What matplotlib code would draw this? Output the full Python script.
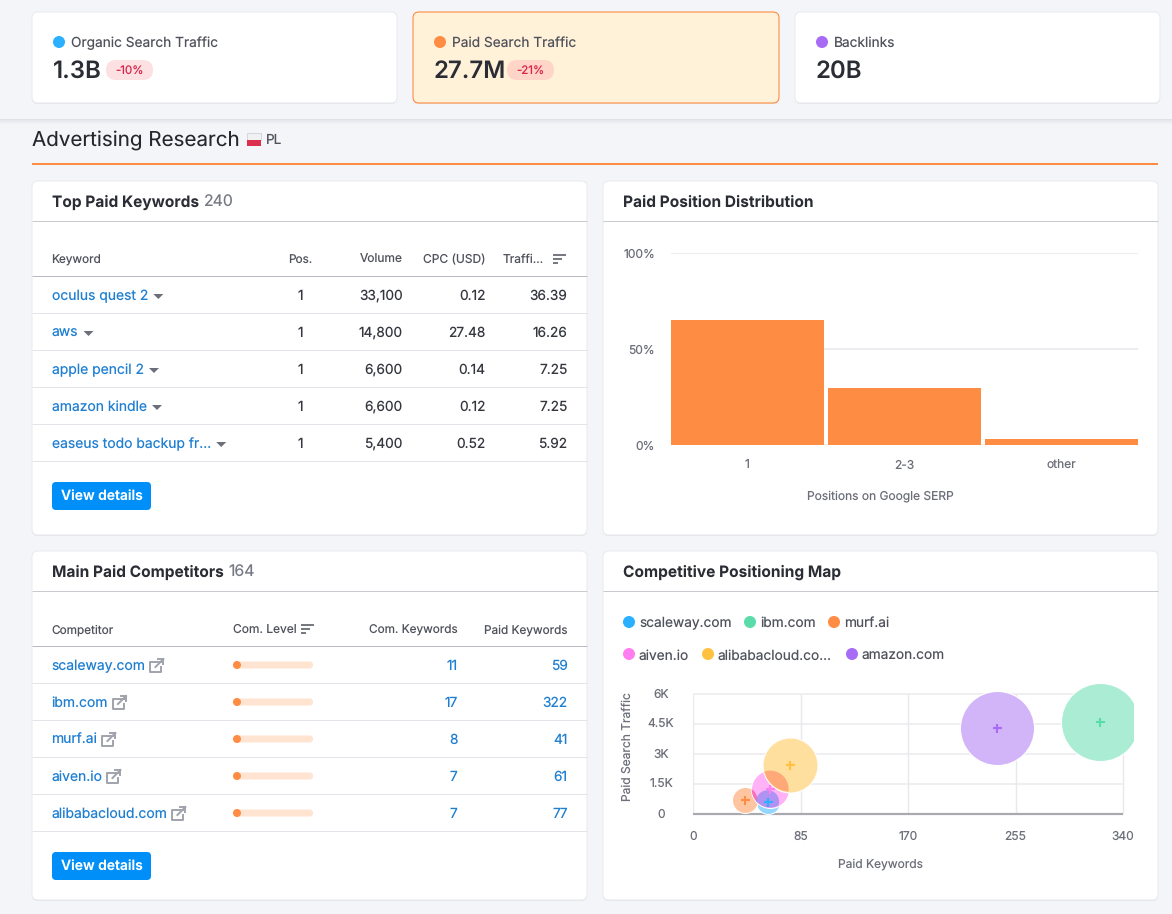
import matplotlib
matplotlib.use("Agg")
import matplotlib.pyplot as plt
from matplotlib.patches import FancyBboxPatch, Rectangle, Circle, Ellipse, Polygon
from matplotlib.ticker import FuncFormatter

plt.rcParams['font.family'] = ['Inter', 'DejaVu Sans']
plt.rcParams['text.hinting'] = 'none'
plt.rcParams['text.hinting_factor'] = 1

W, H = 1172, 914
BG = '#f4f5f9'
DARK = '#2b2d35'
GREY = '#6c6e79'
LINK = '#1f7fd1'
ORANGE = '#ff8c43'
BORDER = '#e9eaee'

# ---- data ----
kpi_labels = ['Organic Search Traffic', 'Paid Search Traffic', 'Backlinks']
kpi_values = ['1.3B', '27.7M', '20B']
kpi_deltas = ['-10%', '-21%', None]
kpi_colors = ['#2bb0ff', '#ff8c43', '#a76bf5']

kw_names = ['oculus quest 2', 'aws', 'apple pencil 2', 'amazon kindle', 'easeus todo backup fr...']
kw_pos = ['1', '1', '1', '1', '1']
kw_volume = ['33,100', '14,800', '6,600', '6,600', '5,400']
kw_cpc = ['0.12', '27.48', '0.14', '0.12', '0.52']
kw_traffic = ['36.39', '16.26', '7.25', '7.25', '5.92']

comp_names = ['scaleway.com', 'ibm.com', 'murf.ai', 'aiven.io', 'alibabacloud.com']
comp_level = [0.06, 0.06, 0.06, 0.06, 0.06]
comp_common = ['11', '17', '8', '7', '7']
comp_paid = ['59', '322', '41', '61', '77']

pos_labels = ['1', '2-3', 'other']
pos_values = [65, 30, 3.5]
pos_ticks = [0, 50, 100]

map_names = ['scaleway.com', 'ibm.com', 'murf.ai', 'aiven.io', 'alibabacloud.com', 'amazon.com']
map_legend = ['scaleway.com', 'ibm.com', 'murf.ai', 'aiven.io', 'alibabacloud.co...', 'amazon.com']
map_colors = ['#2bb0ff', '#59dcaa', '#ff8c43', '#ff7ff0', '#ffc13e', '#a76bf5']
map_x = [59, 322, 41, 61, 77, 240]
map_y = [600, 4600, 700, 1230, 2450, 4300]
map_r = [12.5, 39.5, 13.5, 19.5, 28, 37.5]
map_xticks = [0, 85, 170, 255, 340]
map_yticks = [0, 1500, 3000, 4500, 6000]
map_ylabels = ['0', '1.5K', '3K', '4.5K', '6K']

# ---- canvas ----
fig = plt.figure(figsize=(W / 100, H / 100), dpi=100, facecolor=BG)
ui = fig.add_axes([0, 0, 1, 1])
ui.set_xlim(0, W)
ui.set_ylim(H, 0)
ui.axis('off')


def pt(px):
    return px * 0.72


def text(x, y, s, px=13.7, color=DARK, ha='left', weight='normal', zorder=6, **kw):
    if ha == 'right':
        x += 0.5
    return ui.text(x, y + 0.36 * px, s, fontsize=pt(px), color=color, ha=ha, va='baseline',
                   fontweight=weight, zorder=zorder, **kw)


def card(x0, y0, x1, y1, face='white', edge=BORDER, lw=0.7, rad=6):
    ui.add_patch(FancyBboxPatch((x0 + rad, y0 + 1 + rad), x1 - x0 - 2 * rad, y1 - y0 - 2 * rad,
                                boxstyle=f'round,pad={rad},rounding_size={rad}',
                                fc='#e4e5ea', ec='none', zorder=1))
    ui.add_patch(FancyBboxPatch((x0 + rad, y0 + rad), x1 - x0 - 2 * rad, y1 - y0 - 2 * rad,
                                boxstyle=f'round,pad={rad},rounding_size={rad}',
                                fc=face, ec=edge, lw=lw, zorder=2))


def hline(x0, x1, y, color='#e3e4e9', lw=1.0):
    ui.plot([x0, x1], [y, y], color=color, lw=lw * 0.72, solid_capstyle='butt', zorder=3)


def dot(x, y, r, color, zorder=4):
    ui.add_patch(Circle((x, y), r, fc=color, ec='none', zorder=zorder))


def pill(x0, y0, x1, y1, color):
    r = (y1 - y0) / 2
    ui.add_patch(FancyBboxPatch((x0 + r, y0 + r), x1 - x0 - 2 * r, 0.01,
                                boxstyle=f'round,pad={r},rounding_size={r}', fc=color, ec='none', zorder=4))


# header band shadow
for i, a in enumerate([0.10, 0.07, 0.05, 0.03, 0.015]):
    ui.add_patch(Rectangle((0, 119 + i), W, 1, fc='#30304a', alpha=a, ec='none', zorder=0.5))

# KPI cards
kpi_boxes = [(32, 12, 397, 103), (413, 12, 779, 103), (795, 12, 1160, 103)]
delta_bg = ['#fde0e2', '#ffd5c8']
for i, box in enumerate(kpi_boxes):
    if i == 1:
        card(*box, face='#fff2d9', edge=ORANGE, lw=0.8)
    else:
        card(*box)
    x = box[0] + 21
    dot(x + 6, 42, 6, kpi_colors[i])
    text(x + 18, 42, kpi_labels[i], 13.7, '#50525c')
    text(x, 69, kpi_values[i], 24, DARK, weight='semibold')
    if kpi_deltas[i]:
        px0 = [106, 507][i]
        pill(px0, 60, px0 + 47, 80, delta_bg[i])
        text(px0 + 23.5, 70, kpi_deltas[i], 11.5, '#d9234a', ha='center')

# Section title
text(32, 138.5, 'Advertising Research', 20.6, '#25272e')
ui.add_patch(Rectangle((247, 133), 14, 6.5, fc='#f1f1f3', ec='#c9cad0', lw=0.5, zorder=3))
ui.add_patch(Rectangle((247, 139.5), 14, 6, fc='#dc2f4d', ec='none', zorder=3))
text(266, 139.5, 'PL', 13.5, '#50525c')
hline(32, 1158, 164, ORANGE, 2)

# Panels
panels = [(32, 181, 587, 535), (603, 181, 1158, 535), (32, 551, 587, 900), (603, 551, 1158, 900)]
for b in panels:
    card(*b)
    hline(b[0], b[2], b[1] + 40, '#c9cad0')


def panel_title(x, y, title, count=None):
    t = text(x, y, title, 15.5, DARK, weight='bold')
    if count:
        fig.canvas.draw()
        bb = t.get_window_extent()
        text(bb.x1 + 4.5, y + 0.3, count, 15.8, '#777a85')


panel_title(52, 201, 'Top Paid Keywords', '240')
panel_title(623, 201, 'Paid Position Distribution')
panel_title(52, 571, 'Main Paid Competitors', '164')
panel_title(623, 571, 'Competitive Positioning Map')


def sort_icon(x, y):
    for i, w in enumerate([13, 9, 5]):
        ui.plot([x, x + w], [y - 4 + i * 4] * 2, color='#50525c', lw=1.1, solid_capstyle='butt', zorder=4)


def caret(x, y):
    ui.add_patch(Polygon([(x - 5, y - 2), (x + 5, y - 2), (x, y + 3)], fc='#6c6e79', ec='none', zorder=4))


def ext_icon(x, y):
    c = '#a0a2ac'
    ui.plot([x + 5, x - 6, x - 6, x + 5, x + 5], [y - 3, y - 3, y + 7, y + 7, y + 2], color=c, lw=1.4, zorder=4)
    ui.plot([x - 1, x + 7], [y + 2, y - 6], color=c, lw=1.4, zorder=4)
    ui.plot([x + 2, x + 7, x + 7], [y - 6, y - 6, y - 1], color=c, lw=1.4, zorder=4)


def button(y0):
    ui.add_patch(FancyBboxPatch((56, y0 + 4), 91, 20, boxstyle='round,pad=4,rounding_size=4',
                                fc='#008ff8', ec='none', zorder=4))
    text(101.5, y0 + 14, 'View details', 13.9, 'white', ha='center', weight='semibold')


# Keyword table
hdr = '#50525c'
text(51.5, 259, 'Keyword', 11.8, hdr)
text(300, 259, 'Pos.', 11.8, hdr, ha='center')
text(402, 259, 'Volume', 12, hdr, ha='right')
text(485, 259, 'CPC (USD)', 12, hdr, ha='right')
text(543, 259, 'Traffi...', 12, hdr, ha='right')
sort_icon(553, 259)
hline(32, 587, 275.7, '#b9bac2')
for i, name in enumerate(kw_names):
    y = 295 + i * 37
    t = text(52, y, name, 13.9, LINK)
    fig.canvas.draw()
    caret(t.get_window_extent().x1 + 10, y + 1)
    text(300, y, kw_pos[i], 13.7, '#35373f', ha='center')
    text(402, y, kw_volume[i], 13.7, '#35373f', ha='right')
    text(485, y, kw_cpc[i], 13.7, '#35373f', ha='right')
    text(567, y, kw_traffic[i], 13.7, '#35373f', ha='right')
    hline(32, 587, y + 17.7)
button(482)

# Competitor table
text(51.5, 629, 'Competitor', 11.8, hdr)
text(233, 629, 'Com. Level', 12, hdr)
sort_icon(301, 629)
text(457, 629, 'Com. Keywords', 11.8, hdr, ha='right')
text(567, 629, 'Paid Keywords', 11.8, hdr, ha='right')
hline(32, 587, 645.7, '#b9bac2')
for i, name in enumerate(comp_names):
    y = 665 + i * 37
    t = text(51.5, y, name, 13.9, LINK)
    fig.canvas.draw()
    ext_icon(t.get_window_extent().x1 + 11, y)
    pill(233, y - 3.5, 313, y + 3.5, '#ffe4d1')
    dot(233 + 80 * comp_level[i] - 0.8, y, 4, ORANGE, zorder=5)
    text(457, y, comp_common[i], 13.7, LINK, ha='right')
    text(567, y, comp_paid[i], 13.7, LINK, ha='right')
    hline(32, 587, y + 17.7)
button(852)


def inset(x0, y0, x1, y1):
    a = fig.add_axes([x0 / W, 1 - y1 / H, (x1 - x0) / W, (y1 - y0) / H])
    a.patch.set_alpha(0)
    for s in a.spines.values():
        s.set_visible(False)
    return a


# Paid position bar chart
ax = inset(671, 253, 1138, 445.5)
ax.set_xlim(-153 / 2 / 157, 2 + 153 / 2 / 157)
ax.set_ylim(0, 100)
ax.set_yticks(pos_ticks)
ax.yaxis.set_major_formatter(FuncFormatter(lambda v, _: f'{int(v)}%'))
ax.set_xticks(range(len(pos_labels)))
ax.set_xticklabels(pos_labels)
ax.grid(axis='y', color='#ececf0', lw=1.4)
ax.set_axisbelow(True)
ax.tick_params(length=0, labelsize=pt(12), labelcolor=GREY)
ax.tick_params(axis='y', pad=pt(16))
ax.tick_params(axis='x', pad=pt(14))
ax.bar(range(len(pos_labels)), pos_values, width=153 / 157, color='#ff8c43', linewidth=0, clip_on=False)
text(880.5, 495.5, 'Positions on Google SERP', 12, GREY, ha='center')

# Legend of map (HTML-like)
leg_x_row1 = [629, 750, 834]
leg_x_row2 = [629, 708, 852]
for i in range(3):
    dot(leg_x_row1[i], 622, 6, map_colors[i])
    text(leg_x_row1[i] + 10, 622, map_legend[i], 13.7, '#50525c')
    dot(leg_x_row2[i], 654, 6, map_colors[i + 3])
    text(leg_x_row2[i] + 10, 654.5, map_legend[i + 3], 13.7, '#50525c')

# Competitive map: axes stretched past 340/6K so bubbles clip like the original
PX_X = 340 / 430
PX_Y = 6000 / 120
ax2 = inset(693, 683.5, 1133, 815.5)
ax2.set_xlim(0, 440 * PX_X)
ax2.set_ylim(-1.8 * PX_Y, 130.2 * PX_Y)
ax2.hlines(map_yticks[1:], 0, 340, color='#efeff2', lw=pt(2), zorder=1)
ax2.vlines(map_xticks, 0, 6000, color='#e9e9ed', lw=pt(1.4), zorder=1)
ax2.hlines(0, 0, 340, color='#a9aab0', lw=pt(2.2), zorder=2)
ax2.set_xticks(map_xticks)
ax2.set_yticks(map_yticks)
ax2.set_yticklabels(map_ylabels)
ax2.tick_params(length=0, labelsize=pt(12), labelcolor=GREY)
ax2.tick_params(axis='x', pad=pt(15))
ax2.tick_params(axis='y', pad=pt(32))
for lab in ax2.get_yticklabels():
    lab.set_ha('center')
text(880.5, 863.5, 'Paid Keywords', 12, GREY, ha='center')
ui.text(628, 747, 'Paid Search Traffic', fontsize=pt(12), color=GREY, ha='center', va='center',
        rotation=90, zorder=6)


def oval(i):
    return Ellipse((map_x[i], map_y[i]), 2 * (map_r[i] - 1) * PX_X, 2 * (map_r[i] - 1) * PX_Y,
                   transform=ax2.transData, fc='none', ec='none')


def area(r):
    return (2 * r * 0.72) ** 2


# painter's order: scaleway, ibm, murf, aiven, amazon, alibaba
order = [0, 1, 2, 3, 5, 4]
for z, i in enumerate(order):
    ax2.scatter(map_x[i], map_y[i], s=area(map_r[i]), color='white', linewidth=0, zorder=3 + z)
    ax2.scatter(map_x[i], map_y[i], s=area(map_r[i] - 1), color=map_colors[i],
                alpha=0.6 if i == 3 else 0.5, linewidth=0, zorder=3.2 + z)
    ax2.scatter(map_x[i], map_y[i], s=area(4.5), marker='+', color=map_colors[i], linewidth=1.5, zorder=20)

# overlap tints: the lower bubble shows through the upper one
for under, over, col in [(3, 4, '#ff9c70'), (2, 3, '#f45fa8'), (0, 3, '#9d8bf2')]:
    clip = oval(over)
    ax2.add_patch(clip)
    tint = oval(under)
    tint.set_facecolor(col)
    tint.set_alpha(0.8)
    tint.set_zorder(12)
    ax2.add_patch(tint)
    tint.set_clip_path(clip)

fig.savefig('out.png', dpi=100, facecolor=BG)
